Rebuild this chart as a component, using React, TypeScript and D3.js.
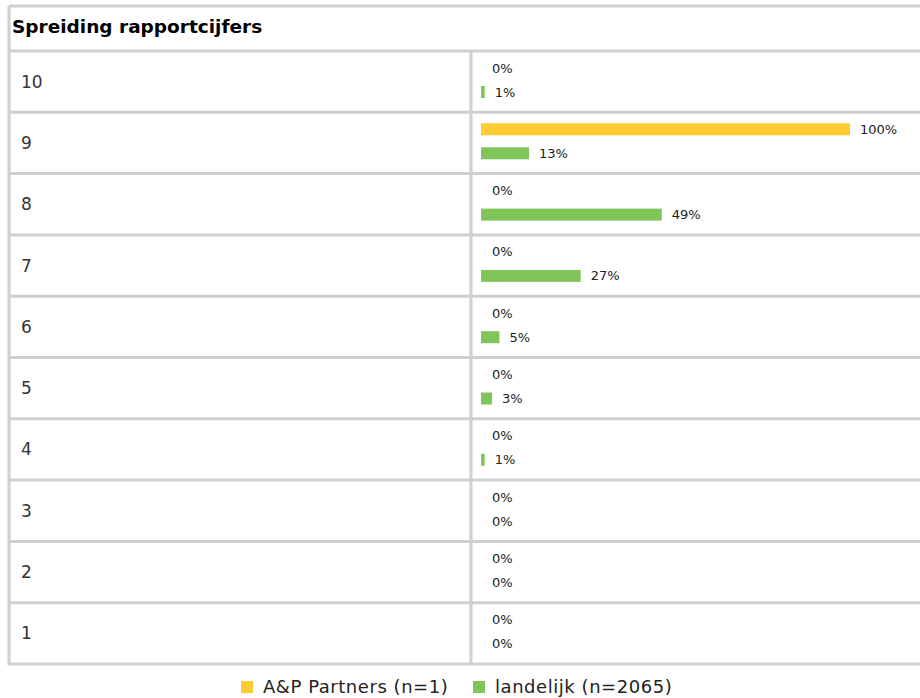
import React from "react";
import * as d3 from "d3";

const categories = ["10", "9", "8", "7", "6", "5", "4", "3", "2", "1"];
const seriesNames = ["A&P Partners (n=1)", "landelijk (n=2065)"];
const partnersValues = [0, 100, 0, 0, 0, 0, 0, 0, 0, 0];
const landelijkValues = [1, 13, 49, 27, 5, 3, 1, 0, 0, 0];
const seriesColors = ["#FFCC33", "#80C55A"];
const title = "Spreiding rapportcijfers";

const W = 920;
const H = 698;
const FONT = "'DejaVu Sans', Verdana, sans-serif";

export default function App() {
  const tableLeft = 9;
  const tableTop = 6;
  const headerBottom = 51;
  const tableBottom = 664;
  const divider = 471;
  const barStart = 481;

  const y = d3.scaleBand<string>().domain(categories).range([headerBottom, tableBottom]);
  const x = d3.scaleLinear().domain([0, 100]).range([barStart, 850]);
  const series = [partnersValues, landelijkValues];
  const offsets = [17, 41];
  const barH = 12;
  const grid = "#D0D0D0";

  return (
    <svg width={W} height={H} style={{ position: "absolute", left: 0, top: 0, background: "#fff" }}>
      {/* header */}
      <text x={12} y={33} fontFamily={FONT} fontWeight="bold" fontSize={18.5} fill="#000">{title}</text>
      {/* row lines */}
      {categories.map((c) => (
        <line key={"l" + c} x1={tableLeft} x2={W} y1={y(c)!} y2={y(c)!} stroke={grid} strokeWidth={3} />
      ))}
      <line x1={tableLeft} x2={W} y1={tableTop} y2={tableTop} stroke={grid} strokeWidth={3} />
      <line x1={tableLeft} x2={W} y1={tableBottom} y2={tableBottom} stroke={grid} strokeWidth={3} />
      <line x1={tableLeft} x2={tableLeft} y1={tableTop} y2={tableBottom + 1.5} stroke={grid} strokeWidth={3} />
      <line x1={divider} x2={divider} y1={headerBottom} y2={tableBottom} stroke={grid} strokeWidth={3} />
      {categories.map((c, i) => {
        const top = y(c)!;
        return (
          <g key={c}>
            <text x={21} y={top + y.bandwidth() / 2} dy="0.35em" fontFamily={FONT} fontSize={17} fill="#333">{c}</text>
            {series.map((vals, s) => {
              const v = vals[i];
              const cy = top + offsets[s];
              return (
                <g key={s}>
                  {v > 0 && (
                    <rect x={x(0)} y={cy - barH / 2} width={x(v) - x(0)} height={barH} fill={seriesColors[s]} />
                  )}
                  <text x={v > 0 ? x(v) + 10 : x(0) + 11} y={cy} dy="0.35em" fontFamily={FONT} fontSize={13} fill="#222">{v + "%"}</text>
                </g>
              );
            })}
          </g>
        );
      })}
      {/* legend */}
      {seriesNames.map((n, s) => {
        const lx = [241, 473][s];
        return (
          <g key={n}>
            <rect x={lx} y={681} width={12} height={12} fill={seriesColors[s]} />
            <text x={lx + 22} y={687} dy="0.35em" fontFamily={FONT} fontSize={18} letterSpacing={0.55} fill="#222">{n}</text>
          </g>
        );
      })}
    </svg>
  );
}
